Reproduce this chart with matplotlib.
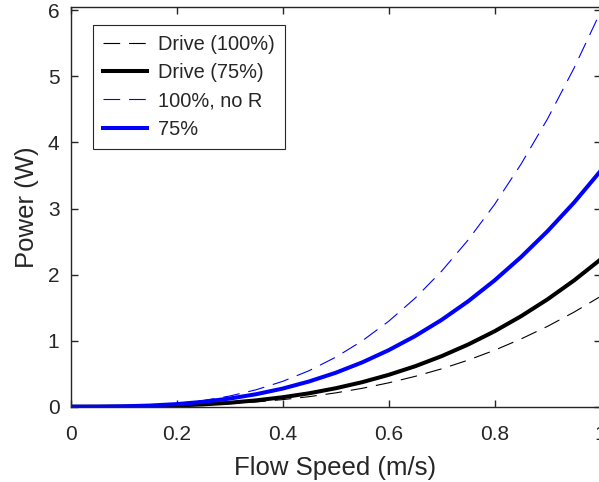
import numpy as np
import matplotlib.pyplot as plt

plt.rcParams['font.family'] = ['Liberation Sans', 'DejaVu Sans']

# flow speed samples (m/s)
speed = [0.0, 0.05, 0.1, 0.15, 0.2, 0.25, 0.3, 0.35, 0.4, 0.45, 0.5,
         0.55, 0.6, 0.65, 0.7, 0.75, 0.8, 0.85, 0.9, 0.95, 1.0]

# power (W) for each case
drive_100 = [0, 0.0002, 0.0017, 0.0056, 0.013, 0.026, 0.045, 0.072, 0.107, 0.152, 0.209,
             0.278, 0.361, 0.459, 0.573, 0.705, 0.855, 1.026, 1.217, 1.432, 1.67]
drive_75 = [0, 0.0003, 0.0022, 0.0075, 0.018, 0.035, 0.060, 0.096, 0.143, 0.203, 0.279,
            0.371, 0.482, 0.612, 0.765, 0.941, 1.142, 1.370, 1.626, 1.912, 2.23]
noR_100 = [0, 0.0007, 0.006, 0.020, 0.048, 0.093, 0.161, 0.256, 0.383, 0.545, 0.748,
           0.995, 1.292, 1.642, 2.051, 2.523, 3.062, 3.673, 4.359, 5.127, 5.98]
p_75 = [0, 0.0008, 0.0057, 0.0176, 0.039, 0.074, 0.123, 0.189, 0.274, 0.382, 0.513,
        0.670, 0.855, 1.069, 1.314, 1.595, 1.912, 2.266, 2.658, 3.091, 3.57]

txt = '#262626'

fig = plt.figure(figsize=(5.99, 4.82), dpi=100)
ax = fig.add_axes([0.1177, 0.1562, 0.885, 0.8293])

ax.plot(speed, drive_100, color='k', lw=0.8, dashes=(15, 8), label='Drive (100%)')
ax.plot(speed, drive_75, color='k', lw=2.9, label='Drive (75%)')
ax.plot(speed, noR_100, color='#0000ff', lw=0.8, dashes=(15, 8), label='100%, no R')
ax.plot(speed, p_75, color='#0000ff', lw=2.9, label='75%')

ax.set_xlim(0, 1)
ax.set_ylim(0, 6.05)
ax.set_xticks([0, 0.2, 0.4, 0.6, 0.8, 1])
ax.set_xticklabels(['0', '0.2', '0.4', '0.6', '0.8', '1'])
ax.set_yticks([0, 1, 2, 3, 4, 5, 6])

ax.tick_params(direction='in', length=5, width=1, top=True, right=True,
               labelsize=15, colors=txt)
ax.tick_params(axis='x', pad=13)
ax.tick_params(axis='y', pad=8)
for s in ax.spines.values():
    s.set_color(txt)
    s.set_linewidth(1)

ax.set_xlabel('Flow Speed (m/s)', fontsize=18.5, color=txt, labelpad=9)
ax.set_ylabel('Power (W)', fontsize=18.5, color=txt, labelpad=6)

leg = ax.legend(loc='upper left', bbox_to_anchor=(0.042, 0.955), borderaxespad=0,
                fontsize=14.4, handlelength=2.2, handletextpad=0.55, labelspacing=0.46,
                borderpad=0.5, fancybox=False, framealpha=1)
leg.get_frame().set_edgecolor(txt)
leg.get_frame().set_linewidth(0.8)
for t in leg.get_texts():
    t.set_color(txt)

fig.savefig('out.png', dpi=100)
